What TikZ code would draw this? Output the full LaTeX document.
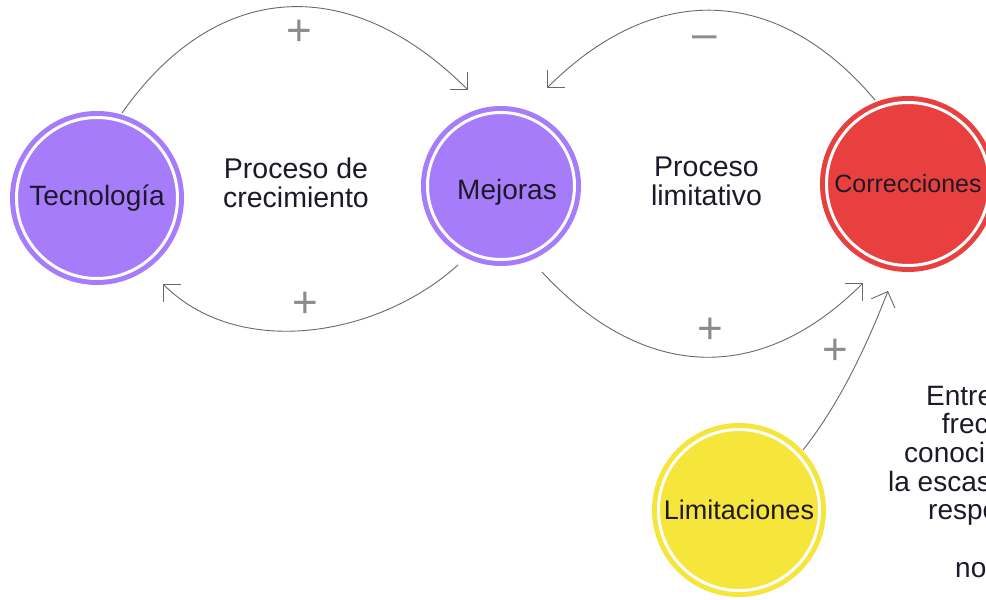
\documentclass[tikz,border=0pt]{standalone}
\usepackage{fontspec}
\setmainfont{Liberation Sans}
\usetikzlibrary{arrows.meta,calc}
\definecolor{cpurple}{RGB}{166,124,250}
\definecolor{cred}{RGB}{232,64,62}
\definecolor{cyellow}{RGB}{246,229,58}
\definecolor{cline}{RGB}{105,105,105}
\definecolor{csign}{RGB}{140,140,140}
\definecolor{ctext}{RGB}{30,25,40}
\begin{document}
\begin{tikzpicture}[x=1pt,y=-1pt,
  ring/.style={circle, minimum size=#1, inner sep=0pt, outer sep=0pt,
    line width=5pt, double=white, double distance=3pt, text=ctext,
    font=\fontsize{27}{30}\selectfont},
  conn/.style={draw=cline, line width=0.9pt,
    -{Straight Barb[angle=90:18pt]}},
  sign/.style={anchor=base, inner sep=0pt, text=csign,
    font=\fontsize{44}{44}\selectfont},
  proc/.style={align=center, inner sep=0pt, text=ctext,
    font=\fontsize{28.5}{29}\selectfont},
  rtxt/.style={anchor=base west, inner sep=0pt, text=ctext,
    font=\fontsize{28}{28}\selectfont}]
\useasboundingbox (0,0) rectangle (986,600);
\fill[white] (0,0) rectangle (986,600);
\clip (0,0) rectangle (986,600);

% circles
\node[ring=161pt, draw=cpurple, fill=cpurple, font=\fontsize{28}{30}\selectfont] (tec) at (97,198) {Tecnología};
\node[ring=147pt, draw=cpurple, fill=cpurple] (mej) at (501,186) {};
\node[text=ctext, font=\fontsize{28}{30}\selectfont, inner sep=0pt, anchor=base] (mejT) at (507,199) {Mejoras};
\node[ring=163pt, draw=cred, fill=cred, font=\fontsize{25}{28}\selectfont] (corr) at (908,184) {Correcciones};
\node[ring=161pt, draw=cyellow, fill=cyellow] (lim) at (739,510) {Limitaciones};

% process labels
\node[proc] (p1) at (296,182.6) {Proceso de\\crecimiento};
\node[proc] (p2) at (706.5,181.6) {Proceso\\limitativo};

% connectors
\draw[conn] ($(tec)+(25,-85)$) .. controls +(95,-135) and +(-117,-117) .. ($(mej)+(-33,-96)$);
\draw[conn] ($(corr)+(-33,-84)$) .. controls +(-98,-116) and +(107,-107) .. ($(mej)+(46,-98)$);
\draw[conn] ($(mej)+(-43,79)$) .. controls +(-80,72) and +(76,76) .. ($(tec)+(66,86)$);
\draw[conn] ($(mej)+(41,86)$) .. controls +(100,108) and +(-104,104) .. ($(corr)+(-45,99)$);
\draw[conn] ($(lim)+(64,-60)$) .. controls +(37,-47) and +(-22,56) .. ($(corr)+(-20,107)$);

% signs
\node[sign] (s1) at (299,45.5) {+};
\node[sign] (s2) at (705,48.5) {–};
\node[sign] (s3) at (305,317.5) {+};
\node[sign] (s4) at (710,343.5) {+};
\node[sign] (s5) at (835,364.5) {+};

% cut-off text on the right (cut by the picture's edge, as in the reference)
\node[rtxt] (r1) at (926,405) {Entre};
\node[rtxt] (r2) at (941.7,433) {frec};
\node[rtxt] (r3) at (904,462) {conoci};
\node[rtxt] (r4) at (888,491) {la escas};
\node[rtxt] (r5) at (928,519) {respe};
\node[rtxt] (r6) at (955,577) {no};
\end{tikzpicture}
\end{document}
